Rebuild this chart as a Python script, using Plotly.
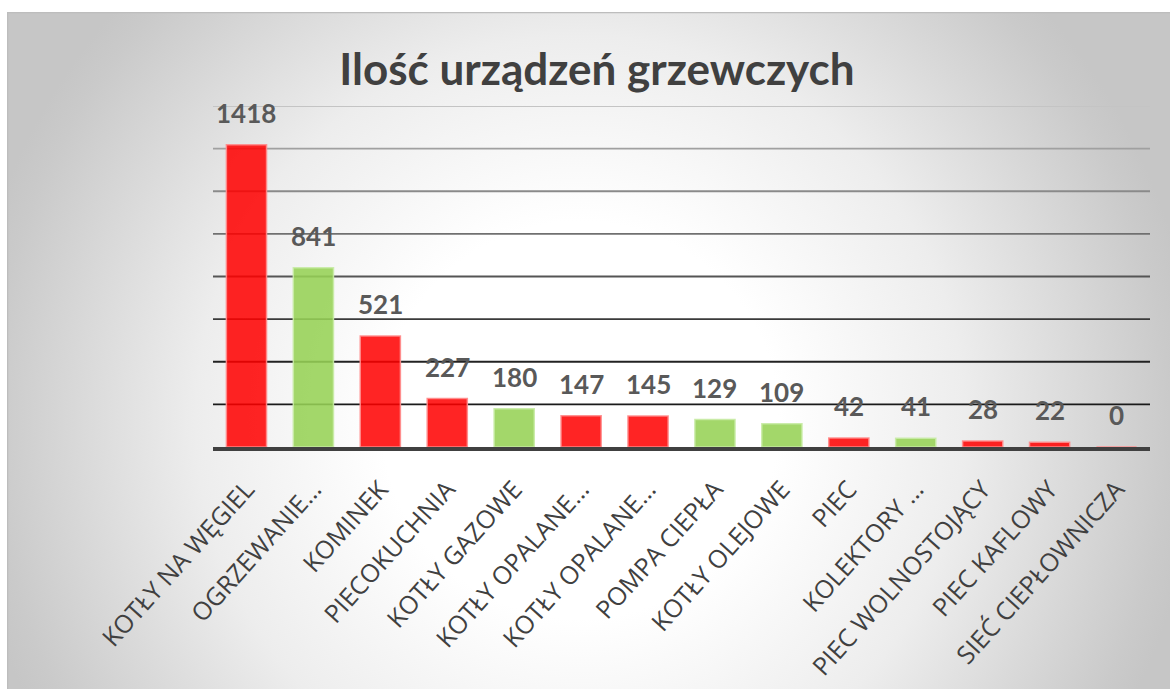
import base64
import plotly.graph_objects as go

# ---- data ----
categories = [
    "KOTŁY NA WĘGIEL", "OGRZEWANIE…", "KOMINEK", "PIECOKUCHNIA", "KOTŁY GAZOWE",
    "KOTŁY OPALANE…", "KOTŁY OPALANE…", "POMPA CIEPŁA", "KOTŁY OLEJOWE", "PIEC",
    "KOLEKTORY …", "PIEC WOLNOSTOJĄCY", "PIEC KAFLOWY", "SIEĆ CIEPŁOWNICZA",
]
values = [1418, 841, 521, 227, 180, 147, 145, 129, 109, 42, 41, 28, 22, 0]
groups = ["r", "g", "r", "r", "g", "r", "r", "g", "g", "r", "g", "r", "r", "r"]
grid_levels = [200, 400, 600, 800, 1000, 1200, 1400, 1600]
grid_colors = ["#1a1a1a", "#222222", "#3a3a3a", "#555555", "#707070", "#8a8a8a", "#a0a0a0", "#c4c4c4"]
title_text = "Ilość urządzeń grzewczych"

fill_map = {"r": "rgba(255,0,0,0.86)", "g": "rgba(150,210,85,0.88)"}
line_map = {"r": "rgba(255,140,140,0.9)", "g": "rgba(200,235,165,0.9)"}

W, H = 1170, 689
L, R, T, B = 213, 20, 106, 242
pw, ph = W - L - R, H - T - B

xs = list(range(len(categories)))

fig = go.Figure()
fig.add_trace(go.Bar(
    x=xs, y=values,
    marker=dict(color=[fill_map[g] for g in groups],
                line=dict(color=[line_map[g] for g in groups], width=1.5)),
    width=0.6,
    hoverinfo="skip",
))

for xv, v in zip(xs, values):
    fig.add_annotation(x=xv, y=v, text=str(v), showarrow=False, yanchor="bottom",
                       yshift=14, font=dict(family="Lato", size=26, color="#595959", weight="bold"))

shapes = []
for lvl, col in zip(grid_levels, grid_colors):
    shapes.append(dict(type="line", xref="paper", x0=0, x1=1, yref="y", y0=lvl, y1=lvl,
                       line=dict(color=col, width=1.8), layer="below"))

# background radial gradient (chart area from x=7, y=12 of the page)
bx0, by0 = 7, 12
bw, bh = W - bx0, H - by0
svg = (f'<svg xmlns="http://www.w3.org/2000/svg" width="{bw}" height="{bh}" viewBox="0 0 {bw} {bh}">'
       '<defs><radialGradient id="g" cx="573" cy="408" r="620" gradientUnits="userSpaceOnUse">'
       '<stop offset="0" stop-color="#ffffff"/><stop offset="0.32" stop-color="#ffffff"/>'
       '<stop offset="0.62" stop-color="#ededed"/><stop offset="0.95" stop-color="#cacaca"/>'
       '<stop offset="1" stop-color="#c6c6c6"/></radialGradient></defs>'
       f'<rect x="0.5" y="0.5" width="{bw + 20}" height="{bh + 20}" fill="url(#g)" stroke="#bdbdbd" stroke-width="1.5"/></svg>')
src = "data:image/svg+xml;base64," + base64.b64encode(svg.encode()).decode()

fig.add_layout_image(dict(
    source=src, xref="paper", yref="paper",
    x=(bx0 - L) / pw, y=(H - B - by0) / ph,
    sizex=bw / pw, sizey=bh / ph,
    xanchor="left", yanchor="top", sizing="stretch", layer="below",
))

fig.update_layout(
    width=W, height=H,
    margin=dict(l=L, r=R, t=T, b=B, autoexpand=False),
    paper_bgcolor="white", plot_bgcolor="rgba(0,0,0,0)",
    showlegend=False,
    shapes=shapes,
    title=dict(text=title_text, x=597 / W, xanchor="center", xref="container",
               y=1 - 70 / H, yanchor="middle", yref="container",
               font=dict(family="Lato", size=44, color="#404040", weight="bold")),
    xaxis=dict(tickmode="array", tickvals=xs, ticktext=categories, tickangle=-48,
               range=[-0.5, len(categories) - 0.5], automargin=False,
               tickfont=dict(family="Open Sans", size=25, color="#404040"),
               ticklabelstandoff=14,
               showgrid=False, zeroline=False, showline=True, linecolor="#404040", linewidth=3.5,
               ticks=""),
    yaxis=dict(range=[0, 1600], showgrid=False, zeroline=False, showticklabels=False,
               showline=False, fixedrange=True, automargin=False),
)

fig.write_html("out.html", config={"displayModeBar": False},
               post_script="document.body.style.margin='0';document.body.style.overflow='hidden';")
